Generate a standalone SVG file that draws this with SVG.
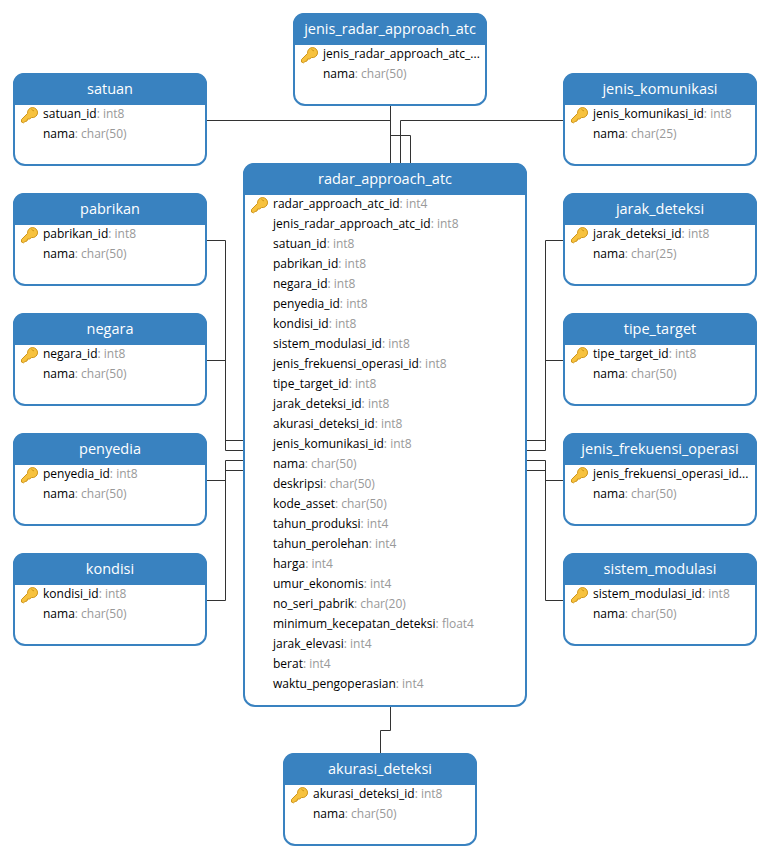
<svg xmlns="http://www.w3.org/2000/svg" width="770" height="860" viewBox="0 0 770 860">
<style>
text{font-family:"Open Sans","Noto Sans","Liberation Sans",sans-serif}
.box{fill:#fff;stroke:#3982c0;stroke-width:2}
.head{fill:#3982c0}
.title{font-size:14.5px;fill:#fff;text-anchor:middle}
.row{font-size:12px;fill:#000}
.row tspan{fill:#999}
.conn{fill:none;stroke:#333;stroke-width:1}
</style>
<defs>
<g id="key">
<path d="M0.500 12.500 L6.600 6.400 A5 5 0 1 1 10.600 10.500 L8.500 12 L6.500 12 L6 14 L4 14.500 L2.500 15.800 L0.500 15 Z" fill="#f7c23e" stroke="#cf9518" stroke-width="1" stroke-linejoin="round"/>
<path d="M10.500 2.500 L13 4" fill="none" stroke="#cf9518" stroke-width="1"/>
</g>
<g id="tbl">
<rect class="box" x="1" y="1" width="192" height="91" rx="11"/>
<path class="head" d="M0 32 V11 A11 11 0 0 1 11 0 H183 A11 11 0 0 1 194 11 V32 Z"/>
<use href="#key" x="8" y="34"/>
</g>
</defs>
<g id="connectors">
<path class="conn" d="M207 120.500H390.500V163"/>
<path class="conn" d="M390.500 106V163"/>
<path class="conn" d="M390.500 135.500H410.500V163"/>
<path class="conn" d="M563 120.500H400.500V163"/>
<path class="conn" d="M207 240.500H225.500V450.500H243"/>
<path class="conn" d="M207 360.500H225.500V440.500H243"/>
<path class="conn" d="M207 480.500H225.500V460.500H243"/>
<path class="conn" d="M207 600.500H225.500V470.500H243"/>
<path class="conn" d="M563 240.500H545.500V440.500H527"/>
<path class="conn" d="M563 360.500H545.500V450.500H527"/>
<path class="conn" d="M563 480.500H545.500V460.500H527"/>
<path class="conn" d="M563 600.500H545.500V470.500H527"/>
<path class="conn" d="M390.500 707V730.500H380.500V753"/>
</g>
<g id="jenis_radar_approach_atc"><use href="#tbl" x="293" y="13"/><text class="title" x="390" y="34">jenis_radar_approach_atc</text><text class="row" x="323" y="58">jenis_radar_approach_atc_...</text><text class="row" x="323" y="78">nama<tspan>: char(50)</tspan></text></g>
<g id="satuan"><use href="#tbl" x="13" y="73"/><text class="title" x="110" y="94">satuan</text><text class="row" x="43" y="118">satuan_id<tspan>: int8</tspan></text><text class="row" x="43" y="138">nama<tspan>: char(50)</tspan></text></g>
<g id="jenis_komunikasi"><use href="#tbl" x="563" y="73"/><text class="title" x="660" y="94">jenis_komunikasi</text><text class="row" x="593" y="118">jenis_komunikasi_id<tspan>: int8</tspan></text><text class="row" x="593" y="138">nama<tspan>: char(25)</tspan></text></g>
<g id="pabrikan"><use href="#tbl" x="13" y="193"/><text class="title" x="110" y="214">pabrikan</text><text class="row" x="43" y="238">pabrikan_id<tspan>: int8</tspan></text><text class="row" x="43" y="258">nama<tspan>: char(50)</tspan></text></g>
<g id="negara"><use href="#tbl" x="13" y="313"/><text class="title" x="110" y="334">negara</text><text class="row" x="43" y="358">negara_id<tspan>: int8</tspan></text><text class="row" x="43" y="378">nama<tspan>: char(50)</tspan></text></g>
<g id="penyedia"><use href="#tbl" x="13" y="433"/><text class="title" x="110" y="454">penyedia</text><text class="row" x="43" y="478">penyedia_id<tspan>: int8</tspan></text><text class="row" x="43" y="498">nama<tspan>: char(50)</tspan></text></g>
<g id="kondisi"><use href="#tbl" x="13" y="553"/><text class="title" x="110" y="574">kondisi</text><text class="row" x="43" y="598">kondisi_id<tspan>: int8</tspan></text><text class="row" x="43" y="618">nama<tspan>: char(50)</tspan></text></g>
<g id="jarak_deteksi"><use href="#tbl" x="563" y="193"/><text class="title" x="660" y="214">jarak_deteksi</text><text class="row" x="593" y="238">jarak_deteksi_id<tspan>: int8</tspan></text><text class="row" x="593" y="258">nama<tspan>: char(25)</tspan></text></g>
<g id="tipe_target"><use href="#tbl" x="563" y="313"/><text class="title" x="660" y="334">tipe_target</text><text class="row" x="593" y="358">tipe_target_id<tspan>: int8</tspan></text><text class="row" x="593" y="378">nama<tspan>: char(50)</tspan></text></g>
<g id="jenis_frekuensi_operasi"><use href="#tbl" x="563" y="433"/><text class="title" x="660" y="454">jenis_frekuensi_operasi</text><text class="row" x="593" y="478">jenis_frekuensi_operasi_id...</text><text class="row" x="593" y="498">nama<tspan>: char(50)</tspan></text></g>
<g id="sistem_modulasi"><use href="#tbl" x="563" y="553"/><text class="title" x="660" y="574">sistem_modulasi</text><text class="row" x="593" y="598">sistem_modulasi_id<tspan>: int8</tspan></text><text class="row" x="593" y="618">nama<tspan>: char(50)</tspan></text></g>
<g id="akurasi_deteksi"><use href="#tbl" x="283" y="753"/><text class="title" x="380" y="774">akurasi_deteksi</text><text class="row" x="313" y="798">akurasi_deteksi_id<tspan>: int8</tspan></text><text class="row" x="313" y="818">nama<tspan>: char(50)</tspan></text></g>
<g id="radar_approach_atc">
<rect class="box" x="244" y="164" width="282" height="542" rx="11"/>
<path class="head" d="M243 195 V174 A11 11 0 0 1 254 163 H516 A11 11 0 0 1 527 174 V195 Z"/>
<use href="#key" x="251" y="197"/>
<text class="title" x="385" y="184">radar_approach_atc</text>
<text class="row" x="273" y="208">radar_approach_atc_id<tspan>: int4</tspan></text>
<text class="row" x="273" y="228">jenis_radar_approach_atc_id<tspan>: int8</tspan></text>
<text class="row" x="273" y="248">satuan_id<tspan>: int8</tspan></text>
<text class="row" x="273" y="268">pabrikan_id<tspan>: int8</tspan></text>
<text class="row" x="273" y="288">negara_id<tspan>: int8</tspan></text>
<text class="row" x="273" y="308">penyedia_id<tspan>: int8</tspan></text>
<text class="row" x="273" y="328">kondisi_id<tspan>: int8</tspan></text>
<text class="row" x="273" y="348">sistem_modulasi_id<tspan>: int8</tspan></text>
<text class="row" x="273" y="368">jenis_frekuensi_operasi_id<tspan>: int8</tspan></text>
<text class="row" x="273" y="388">tipe_target_id<tspan>: int8</tspan></text>
<text class="row" x="273" y="408">jarak_deteksi_id<tspan>: int8</tspan></text>
<text class="row" x="273" y="428">akurasi_deteksi_id<tspan>: int8</tspan></text>
<text class="row" x="273" y="448">jenis_komunikasi_id<tspan>: int8</tspan></text>
<text class="row" x="273" y="468">nama<tspan>: char(50)</tspan></text>
<text class="row" x="273" y="488">deskripsi<tspan>: char(50)</tspan></text>
<text class="row" x="273" y="508">kode_asset<tspan>: char(50)</tspan></text>
<text class="row" x="273" y="528">tahun_produksi<tspan>: int4</tspan></text>
<text class="row" x="273" y="548">tahun_perolehan<tspan>: int4</tspan></text>
<text class="row" x="273" y="568">harga<tspan>: int4</tspan></text>
<text class="row" x="273" y="588">umur_ekonomis<tspan>: int4</tspan></text>
<text class="row" x="273" y="608">no_seri_pabrik<tspan>: char(20)</tspan></text>
<text class="row" x="273" y="628">minimum_kecepatan_deteksi<tspan>: float4</tspan></text>
<text class="row" x="273" y="648">jarak_elevasi<tspan>: int4</tspan></text>
<text class="row" x="273" y="668">berat<tspan>: int4</tspan></text>
<text class="row" x="273" y="688">waktu_pengoperasian<tspan>: int4</tspan></text>
</g>
</svg>
